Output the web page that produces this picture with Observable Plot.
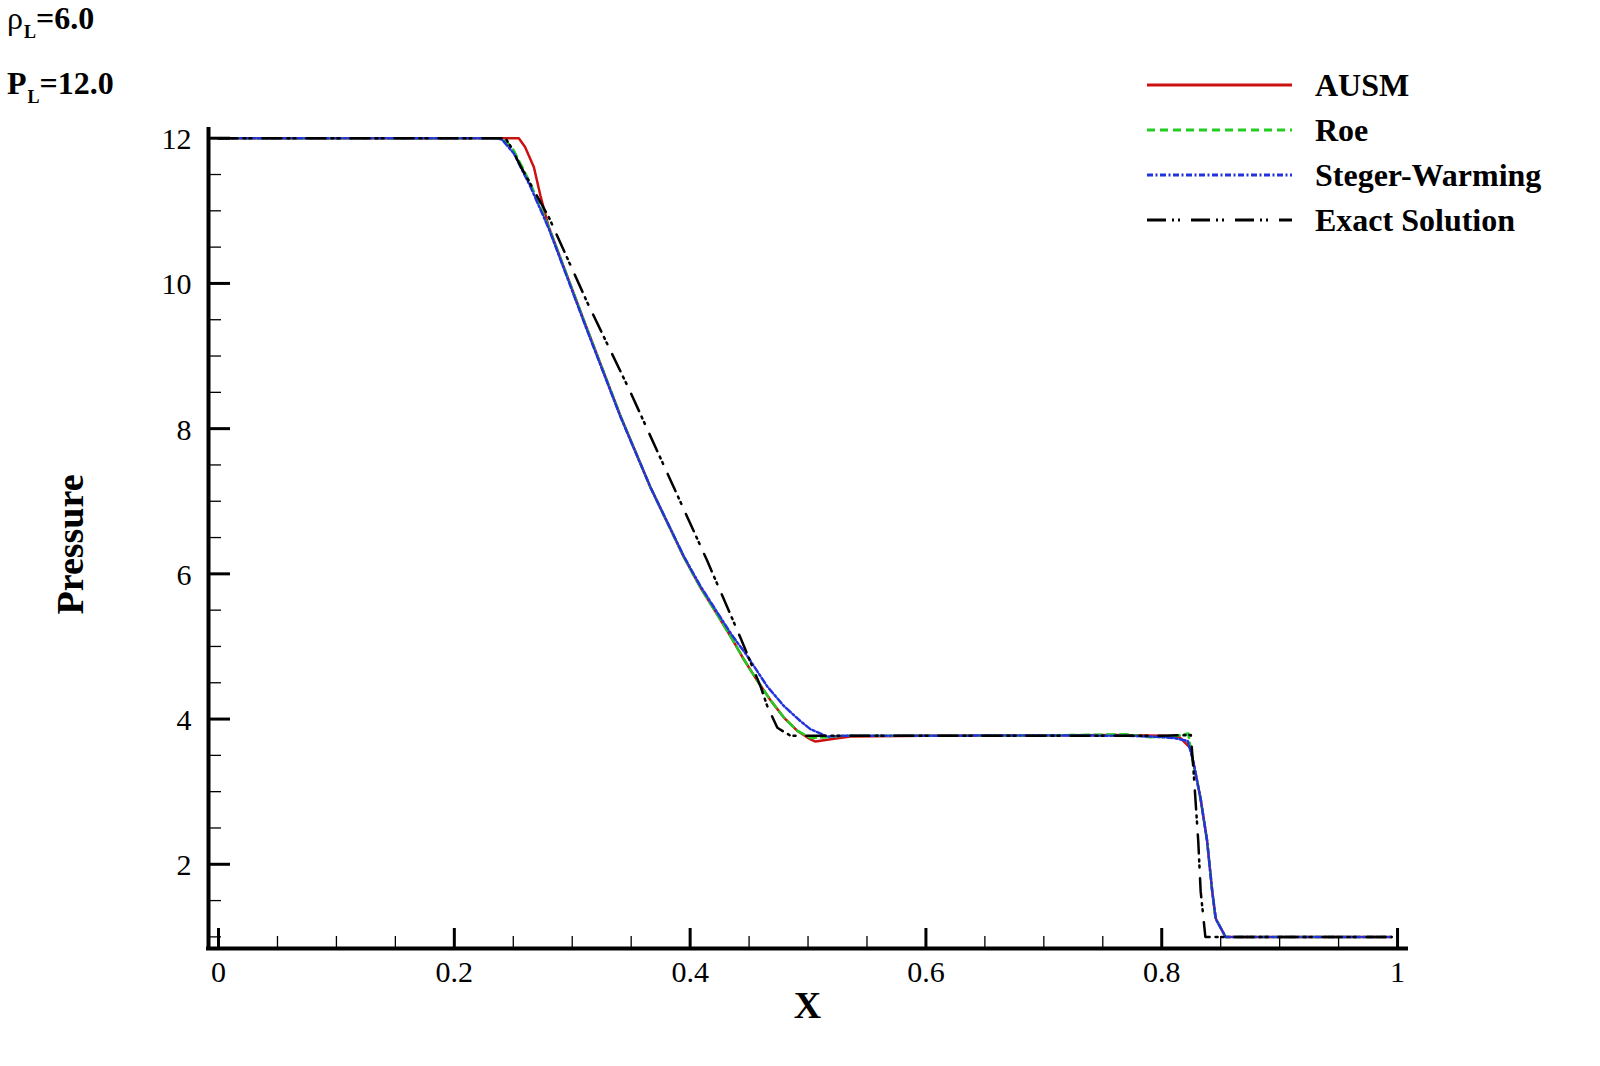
<!DOCTYPE html>
<html><head><meta charset="utf-8">
<script src="https://cdn.jsdelivr.net/npm/d3@7"></script>
<script src="https://cdn.jsdelivr.net/npm/@observablehq/plot@0.6"></script>
<style>html,body{margin:0;padding:0;background:#fff;} svg{display:block}</style>
</head><body><div id="chart"></div>
<script>
// ---- data ----
const ausmX = [0, 0.2547, 0.2600, 0.2675, 0.2730, 0.2800, 0.2960, 0.3115, 0.3410, 0.3664, 0.3947, 0.4088, 0.4230, 0.4357, 0.4456, 0.4569, 0.4682, 0.4795, 0.4908, 0.5021, 0.5064, 0.5220, 0.5360, 0.6000, 0.7000, 0.7600, 0.8000, 0.8150, 0.8244, 0.8329, 0.8385, 0.8428, 0.8456, 0.8541, 0.9950];
const ausmP = [12, 12, 11.88, 11.60, 11.21, 10.78, 10.09, 9.42, 8.17, 7.19, 6.23, 5.81, 5.44, 5.10, 4.82, 4.53, 4.26, 4.02, 3.84, 3.72, 3.69, 3.73, 3.76, 3.77, 3.775, 3.78, 3.77, 3.75, 3.60, 2.91, 2.32, 1.63, 1.26, 1.00, 1.00];

const roeX = [0, 0.2380, 0.2445, 0.2505, 0.2646, 0.2800, 0.2960, 0.3115, 0.3410, 0.3664, 0.3947, 0.4088, 0.4230, 0.4357, 0.4456, 0.4569, 0.4682, 0.4795, 0.4908, 0.5021, 0.5150, 0.5300, 0.6000, 0.7000, 0.7700, 0.7900, 0.8100, 0.8225, 0.8260, 0.8329, 0.8385, 0.8428, 0.8456, 0.8541, 0.9950];
const roeP = [12, 12, 11.95, 11.83, 11.375, 10.78, 10.09, 9.42, 8.17, 7.19, 6.23, 5.81, 5.44, 5.10, 4.82, 4.53, 4.26, 4.02, 3.84, 3.74, 3.75, 3.77, 3.77, 3.775, 3.79, 3.75, 3.76, 3.80, 3.45, 2.91, 2.32, 1.63, 1.26, 1.00, 1.00];

const swX = [0, 0.2360, 0.2405, 0.2505, 0.2646, 0.2800, 0.2960, 0.3115, 0.3410, 0.3664, 0.3947, 0.4088, 0.4230, 0.4357, 0.4480, 0.4569, 0.4654, 0.4795, 0.4936, 0.5021, 0.5163, 0.5300, 0.6000, 0.7000, 0.7700, 0.7900, 0.8100, 0.8220, 0.8270, 0.8329, 0.8385, 0.8428, 0.8460, 0.8541, 0.9950];
const swP = [12, 12, 11.98, 11.79, 11.33, 10.76, 10.07, 9.40, 8.16, 7.19, 6.24, 5.83, 5.47, 5.15, 4.88, 4.66, 4.45, 4.18, 3.97, 3.86, 3.76, 3.77, 3.77, 3.775, 3.77, 3.76, 3.74, 3.70, 3.40, 2.91, 2.32, 1.63, 1.24, 1.00, 1.00];

const exactX = [0, 0.2434, 0.2480, 0.2560, 0.2802, 0.3127, 0.3480, 0.3640, 0.3862, 0.4145, 0.4427, 0.4597, 0.4654, 0.4740, 0.4852, 0.6000, 0.7000, 0.8000, 0.8247, 0.8270, 0.8310, 0.8330, 0.8370, 0.9950];
const exactP = [12, 12, 11.88, 11.62, 10.91, 9.74, 8.55, 7.98, 7.19, 6.18, 5.12, 4.45, 4.18, 3.88, 3.77, 3.77, 3.77, 3.77, 3.78, 3.28, 2.31, 1.63, 1.00, 1.00];

const seriesNames = ["AUSM", "Roe", "Steger-Warming", "Exact Solution"];
const seriesColors = ["#cc1111", "#22cc22", "#2233dd", "#000000"];
const seriesDash = [null, "8,5", "6,2.5,2,2.5", "19,6,2,4,2,11"];

const xTickValues = [0, 0.2, 0.4, 0.6, 0.8, 1];
const xTickLabels = ["0", "0.2", "0.4", "0.6", "0.8", "1"];
const yTickValues = [2, 4, 6, 8, 10, 12];
const yTickLabels = ["2", "4", "6", "8", "10", "12"];
const xMinorValues = [0.05, 0.1, 0.15, 0.25, 0.3, 0.35, 0.45, 0.5, 0.55, 0.65, 0.7, 0.75, 0.85, 0.9, 0.95];
const yMinorValues = [1, 1.5, 2.5, 3, 3.5, 4.5, 5, 5.5, 6.5, 7, 7.5, 8.5, 9, 9.5, 10.5, 11, 11.5];

const xLabel = "X";
const yLabel = "Pressure";

// ---- layout ----
const W = 1600, H = 1066, mL = 208, mR = 194, mT = 129, mB = 118;
const xDom = [-0.0085, 1.0076], yDom = [0.84, 12.12];
const pxX = (W - mL - mR) / (xDom[1] - xDom[0]);
const pxY = (H - mT - mB) / (yDom[1] - yDom[0]);
const serif = "'Liberation Serif','Times New Roman',serif";

const zip = (xs, ps) => xs.map((x, i) => ({x, p: ps[i]}));
const allSeries = [zip(ausmX, ausmP), zip(roeX, roeP), zip(swX, swP), zip(exactX, exactP)];

const lineMarks = allSeries.map((data, i) => Plot.line(data, {
  x: "x", y: "p", stroke: seriesColors[i], strokeWidth: 2.5,
  strokeDasharray: seriesDash[i] ?? undefined, strokeLinejoin: "round"
}));

const chart = Plot.plot({
  width: W, height: H,
  marginLeft: mL, marginRight: mR, marginTop: mT, marginBottom: mB,
  x: {domain: xDom, axis: null},
  y: {domain: yDom, axis: null},
  style: {fontFamily: serif, background: "white", color: "black"},
  marks: [
    ...lineMarks,
    // ticks (inward)
    Plot.ruleX(xTickValues, {x: d => d, y1: yDom[0], y2: yDom[0] + 20 / pxY, stroke: "black", strokeWidth: 3}),
    Plot.ruleX(xMinorValues, {x: d => d, y1: yDom[0], y2: yDom[0] + 12 / pxY, stroke: "black", strokeWidth: 1.3}),
    Plot.ruleY(yTickValues, {y: d => d, x1: xDom[0], x2: xDom[0] + 22 / pxX, stroke: "black", strokeWidth: 3}),
    Plot.ruleY(yMinorValues, {y: d => d, x1: xDom[0], x2: xDom[0] + 13 / pxX, stroke: "black", strokeWidth: 1.3}),
    // axis lines
    Plot.ruleX([xDom[0]], {stroke: "black", strokeWidth: 4, strokeLinecap: "square"}),
    Plot.ruleY([yDom[0]], {stroke: "black", strokeWidth: 4, strokeLinecap: "square"}),
    // tick labels
    Plot.text(xTickValues, {x: d => d, frameAnchor: "bottom", text: (d, i) => xTickLabels[i],
      lineAnchor: "bottom", dy: 33, fontSize: 30, fill: "black"}),
    Plot.text(yTickValues, {y: d => d, frameAnchor: "left", text: (d, i) => yTickLabels[i],
      textAnchor: "end", lineAnchor: "bottom", dx: -17, dy: 11, fontSize: 30, fill: "black"}),
    // axis titles
    Plot.text([xLabel], {frameAnchor: "bottom", text: d => d, lineAnchor: "bottom", dy: 69,
      fontSize: 38, fontWeight: "bold", fill: "black"}),
    Plot.text([yLabel], {frameAnchor: "left", text: d => d, rotate: -90, lineAnchor: "bottom",
      textAnchor: "middle", dx: -126, dy: 5.5, fontSize: 38, fontWeight: "bold", fill: "black"})
  ]
});
document.getElementById("chart").appendChild(chart);

// ---- legend & annotations ----
const svg = d3.select(chart);
const leg = svg.append("g").attr("text-anchor", "start");
seriesNames.forEach((name, i) => {
  const cy = 85 + 45 * i;
  const ln = leg.append("line").attr("x1", 1147).attr("x2", 1292).attr("y1", cy).attr("y2", cy)
    .attr("stroke", seriesColors[i]).attr("stroke-width", 2.8);
  if (seriesDash[i]) ln.attr("stroke-dasharray", seriesDash[i]);
  leg.append("text").attr("x", 1315).attr("y", cy + 11).text(name).attr("text-anchor", "start")
    .attr("font-family", serif).attr("font-size", 32).attr("font-weight", "bold").attr("fill", "black");
});

const ann = [
  {sym: "ρ", symBold: false, rest: "=6.0", y: 29},
  {sym: "P", symBold: true, rest: "=12.0", y: 94}
];
ann.forEach(a => {
  const t = svg.append("text").attr("x", 7).attr("y", a.y).attr("text-anchor", "start")
    .attr("font-family", serif).attr("fill", "black").attr("font-size", 32);
  t.append("tspan").attr("font-weight", a.symBold ? "bold" : "normal").text(a.sym);
  t.append("tspan").attr("font-weight", "bold").attr("font-size", 18).attr("dy", 9).attr("dx", 1).text("L");
  t.append("tspan").attr("font-weight", "bold").attr("dy", -9).text(a.rest);
});
</script>
</body></html>
